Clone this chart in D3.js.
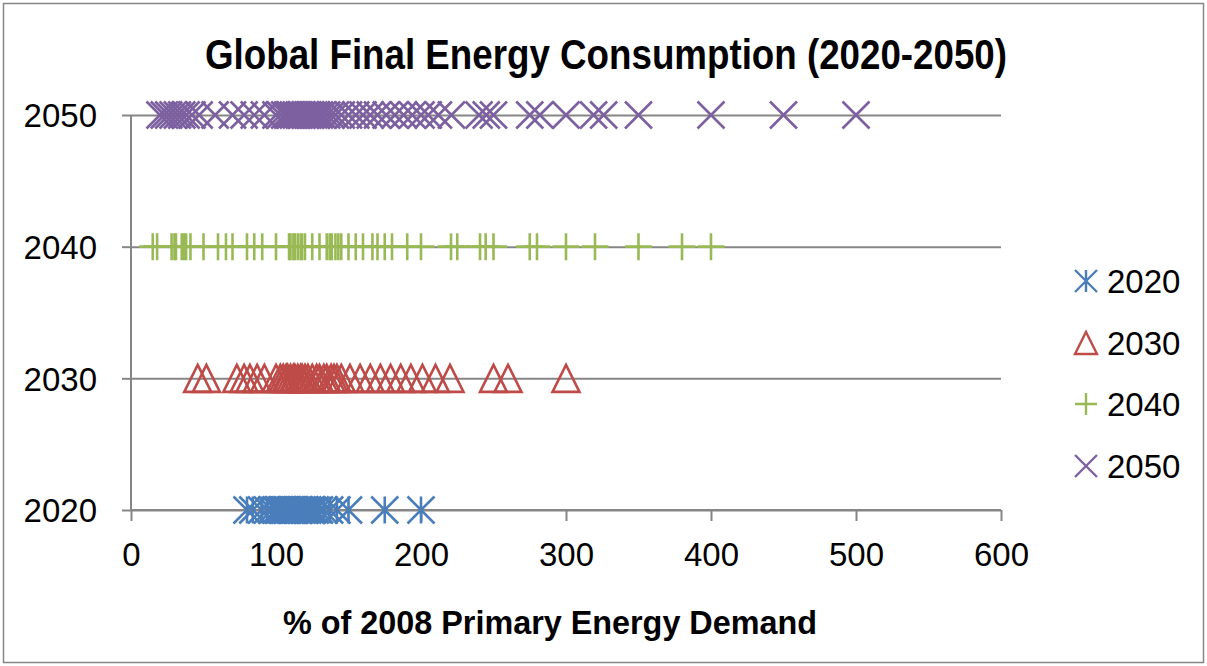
<!DOCTYPE html>
<html>
<head>
<meta charset="utf-8">
<script src="https://cdn.jsdelivr.net/npm/d3@7"></script>
<style>
  html, body { margin: 0; padding: 0; background: #ffffff; }
  svg { display: block; }
  text { font-family: "Liberation Sans", Arial, sans-serif; fill: #000; }
</style>
</head>
<body>
<svg id="chart" width="1207" height="666"></svg>
<script>
// Share of 2008 primary energy demand, by scenario, for each target year
const years = [2020, 2030, 2040, 2050];
const xTicks = [0, 100, 200, 300, 400, 500, 600];
const yTicks = [2020, 2030, 2040, 2050];

const values2020 = [80, 84, 90, 94, 97, 100, 102, 104, 105, 106, 108, 110, 111, 112, 113,
  115, 116, 118, 120, 122, 124, 125, 127, 130, 133, 137, 142, 150, 175, 200];

const values2030 = [46, 52, 73, 78, 82, 87, 92, 100, 103, 105, 107, 108, 110, 112, 113, 115,
  117, 118, 120, 122, 125, 128, 130, 133, 135, 138, 140, 142, 145, 151, 158, 165, 172,
  179, 186, 193, 201, 210, 220, 250, 260, 300];

const values2040 = [15, 18, 28, 30, 31, 35, 36.5, 38, 41, 50, 60, 65.5, 70, 80, 85, 90.5,
  100, 109, 110, 112, 113, 115, 117, 118, 120, 125, 130, 135, 137, 138.5, 141, 143, 145,
  150, 155, 160, 166.5, 170, 175, 180, 190.5, 200, 220.7, 225, 240.7, 244.6, 250, 275,
  280, 300, 320, 350, 380, 400];

const values2050 = [20, 23, 26, 29, 32, 35, 38, 42, 47, 58, 70, 78, 85, 92, 100, 103, 106,
  108, 110, 112, 114, 116, 118, 120, 122, 124, 126, 128, 130, 132, 135, 138, 141, 145,
  150, 155, 160, 165, 170, 176, 182, 188, 194, 200, 205, 212, 221, 240, 245, 250, 275,
  282, 300, 319, 326, 350, 400, 450, 500];

const seriesColors = ["#4a7ebb", "#be4b48", "#98b954", "#7d60a0"];
const seriesShapes = ["star", "triangle", "plus", "cross"];
const seriesValues = [values2020, values2030, values2040, values2050];

const series = years.map((year, i) => ({
  name: String(year),
  year: year,
  values: seriesValues[i],
  color: seriesColors[i],
  shape: seriesShapes[i]
}));

const svg = d3.select("#chart");
const axisColor = "#868686";

// Outer chart frame
svg.append("rect")
  .attr("x", 3.5).attr("y", 3.5)
  .attr("width", 1200).attr("height", 659)
  .attr("fill", "#fff")
  .attr("stroke", axisColor).attr("stroke-width", 1.5);

const x = d3.scaleLinear().domain([0, 600]).range([131, 1001]);
const y = d3.scaleLinear().domain([2020, 2050]).range([510, 115]);

// Marker path generator, centred at 0,0
function markerPath(shape, r) {
  const p = d3.path();
  if (shape === "star") {
    p.moveTo(-r, -r); p.lineTo(r, r);
    p.moveTo(-r, r); p.lineTo(r, -r);
    p.moveTo(0, -r); p.lineTo(0, r);
  } else if (shape === "triangle") {
    p.moveTo(0, -r); p.lineTo(r, r); p.lineTo(-r, r); p.closePath();
  } else if (shape === "plus") {
    p.moveTo(-r, 0); p.lineTo(r, 0);
    p.moveTo(0, -r); p.lineTo(0, r);
  } else {
    p.moveTo(-r, -r); p.lineTo(r, r);
    p.moveTo(-r, r); p.lineTo(r, -r);
  }
  return p.toString();
}

// Horizontal gridlines
svg.append("g")
  .attr("transform", "translate(131,0)")
  .call(d3.axisLeft(y).tickValues(yTicks).tickSize(-870).tickFormat(""))
  .call(g => g.select(".domain").remove())
  .call(g => g.selectAll("line").attr("stroke", axisColor).attr("stroke-width", 2));

// Y axis: line, outward ticks and labels
const yAxis = svg.append("g")
  .attr("transform", "translate(131,0)")
  .call(d3.axisLeft(y).tickValues(yTicks).tickSize(9).tickPadding(25).tickFormat(d3.format("d")));
yAxis.select(".domain").attr("stroke", axisColor).attr("stroke-width", 2)
  .attr("d", `M0,${y(2050)}V${y(2020)}`);
yAxis.selectAll("line").attr("stroke", axisColor).attr("stroke-width", 2);
yAxis.selectAll("text")
  .attr("font-family", "Liberation Sans, Arial, sans-serif")
  .attr("font-size", 33).attr("fill", "#000").attr("dy", "0.36em");

// X axis along the bottom
const xAxis = svg.append("g")
  .attr("transform", `translate(0,${y(2020)})`)
  .call(d3.axisBottom(x).tickValues(xTicks).tickSize(11).tickPadding(22).tickFormat(d3.format("d")));
xAxis.select(".domain").attr("stroke", axisColor).attr("stroke-width", 2)
  .attr("d", `M${x(0)},0H${x(600)}`);
xAxis.selectAll("line").attr("stroke", axisColor).attr("stroke-width", 2);
xAxis.selectAll("text")
  .attr("font-family", "Liberation Sans, Arial, sans-serif")
  .attr("font-size", 33).attr("fill", "#000").attr("dy", "0.71em");

// Data markers, one row per target year
const plot = svg.append("g");
series.forEach(s => {
  plot.append("g")
    .selectAll("path")
    .data(s.values)
    .join("path")
    .attr("transform", d => `translate(${x(d)},${y(s.year)})`)
    .attr("d", markerPath(s.shape, 13.5))
    .attr("fill", "none")
    .attr("stroke", s.color)
    .attr("stroke-width", 2.6)
    .attr("stroke-linejoin", "miter");
});

// Legend
const legend = svg.append("g");
const legendY = [281, 343, 404, 466];
series.forEach((s, i) => {
  const g = legend.append("g").attr("transform", `translate(1086,${legendY[i]})`);
  g.append("path")
    .attr("d", markerPath(s.shape, 11))
    .attr("fill", "none")
    .attr("stroke", s.color)
    .attr("stroke-width", 2.4);
  g.append("text")
    .attr("x", 21).attr("y", 0).attr("dy", "0.36em")
    .attr("font-size", 33)
    .text(s.name);
});

// Titles
svg.append("text")
  .attr("x", 606).attr("y", 69)
  .attr("text-anchor", "middle")
  .attr("font-weight", "bold")
  .attr("font-size", 43)
  .attr("textLength", 802)
  .attr("lengthAdjust", "spacingAndGlyphs")
  .text("Global Final Energy Consumption (2020-2050)");

svg.append("text")
  .attr("x", 550).attr("y", 634)
  .attr("text-anchor", "middle")
  .attr("font-weight", "bold")
  .attr("font-size", 33)
  .attr("textLength", 534)
  .attr("lengthAdjust", "spacingAndGlyphs")
  .text("% of 2008 Primary Energy Demand");
</script>
</body>
</html>
